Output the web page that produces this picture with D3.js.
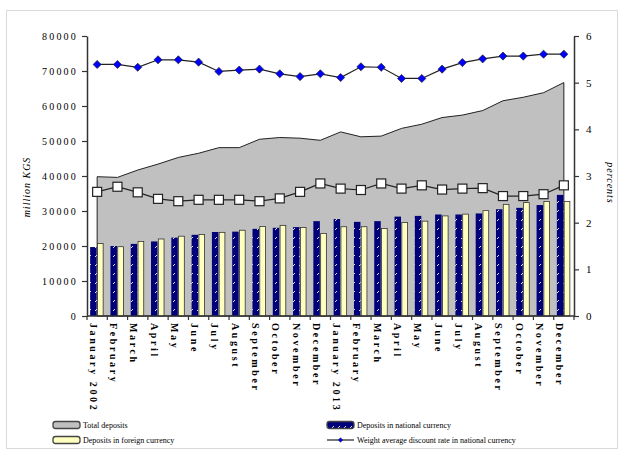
<!DOCTYPE html>
<html>
<head>
<meta charset="utf-8">
<script src="https://cdn.jsdelivr.net/npm/d3@7"></script>
<style>
  body { margin: 0; background: #fff; }
  svg text { font-family: "Liberation Serif", "Times New Roman", serif; fill: #000; }
</style>
</head>
<body>
<div id="chart"></div>
<script>
// month labels, 2002 - 2013
const months = ["January 2002", "February", "March", "April", "May", "June", "July", "August",
    "September", "October", "November", "December",
    "January 2013", "February", "March", "April", "May", "June", "July", "August",
    "September", "October", "November", "December"]

// million KGS
const totalDeposits = [39800, 39600, 41700, 43400, 45300, 46500, 48100, 48100, 50500, 51000, 50800, 50200,
    52600, 51200, 51400, 53600, 54800, 56700, 57400, 58700, 61500, 62500, 63800, 66700]
const nationalDeposits = [19700, 20000, 20600, 21300, 22400, 23200, 24000, 24100, 24900, 25200, 25400, 27100,
    27700, 26900, 27100, 28400, 28600, 29000, 29000, 29300, 30500, 30900, 31700, 34600]
const foreignDeposits = [20700, 19800, 21300, 22000, 22800, 23300, 23900, 24500, 25600, 25900, 25300, 23600,
    25500, 25500, 25000, 26700, 27100, 28600, 29100, 30100, 31900, 32400, 32700, 32700]

// percents
const rateNational = [5.39, 5.39, 5.33, 5.49, 5.49, 5.44, 5.24, 5.27, 5.29, 5.19, 5.13, 5.19,
    5.11, 5.34, 5.33, 5.09, 5.09, 5.29, 5.43, 5.51, 5.57, 5.57, 5.61, 5.61]
const rateForeign = [2.66, 2.77, 2.65, 2.51, 2.46, 2.49, 2.49, 2.49, 2.46, 2.52, 2.66, 2.84,
    2.73, 2.70, 2.84, 2.73, 2.80, 2.71, 2.73, 2.74, 2.57, 2.57, 2.61, 2.80]

const leftTicks = [0, 10000, 20000, 30000, 40000, 50000, 60000, 70000, 80000]
const rightTicks = [0, 1, 2, 3, 4, 5, 6]

const W = 621, H = 454
const margin = {top: 36, right: 47, bottom: 138, left: 87}
const width = W - margin.left - margin.right
const height = H - margin.top - margin.bottom

const svg = d3.select("#chart").append("svg")
    .attr("width", W)
    .attr("height", H)

// frame
svg.append("rect")
    .attr("x", 6.5).attr("y", 10.5)
    .attr("width", 611).attr("height", 438)
    .attr("fill", "none")
    .attr("stroke", "#d9d9d9")

const defs = svg.append("defs")
const pat = defs.append("pattern")
    .attr("id", "navyPat")
    .attr("patternUnits", "userSpaceOnUse")
    .attr("width", 6).attr("height", 9)
pat.append("rect").attr("width", 6).attr("height", 9).attr("fill", "#00007a")
pat.append("path").attr("d", "M2,5 L4,3").attr("stroke", "#fff").attr("stroke-width", 0.9)

const g = svg.append("g")
    .attr("transform", "translate(" + margin.left + "," + margin.top + ")")

const x = d3.scaleBand()
    .domain(d3.range(months.length))
    .range([0, width])
    .padding(0)

const y = d3.scaleLinear()
    .domain([0, 80000])
    .range([height, 0])

const y2 = d3.scaleLinear()
    .domain([0, 6])
    .range([height, 0])

const cx = i => x(i) + x.bandwidth() / 2

// total deposits area
const area = d3.area()
    .x((d, i) => cx(i))
    .y0(height)
    .y1(d => y(d))
g.append("path")
    .datum(totalDeposits)
    .attr("d", area)
    .attr("fill", "#c0c0c0")
    .attr("stroke", "#222")
    .attr("stroke-width", 1)

// bars
const barW = 6.5
g.append("g").selectAll("rect")
    .data(nationalDeposits)
    .enter().append("rect")
    .attr("x", (d, i) => cx(i) - barW - 0.5)
    .attr("y", d => y(d))
    .attr("width", barW)
    .attr("height", d => height - y(d))
    .attr("fill", "url(#navyPat)")

g.append("g").selectAll("rect")
    .data(foreignDeposits)
    .enter().append("rect")
    .attr("x", (d, i) => cx(i) + 0.3)
    .attr("y", d => y(d))
    .attr("width", barW - 0.8)
    .attr("height", d => height - y(d))
    .attr("fill", "#ffffc0")
    .attr("stroke", "#333")
    .attr("stroke-width", 0.8)

// lines on right axis
const line = d3.line()
    .x((d, i) => cx(i))
    .y(d => y2(d))

g.append("path")
    .datum(rateForeign)
    .attr("d", line)
    .attr("fill", "none")
    .attr("stroke", "#222")
    .attr("stroke-width", 1.2)
g.append("g").selectAll("rect")
    .data(rateForeign)
    .enter().append("rect")
    .attr("x", (d, i) => cx(i) - 4.5)
    .attr("y", d => y2(d) - 4.5)
    .attr("width", 9).attr("height", 9)
    .attr("fill", "#fff")
    .attr("stroke", "#222")
    .attr("stroke-width", 1.2)

g.append("path")
    .datum(rateNational)
    .attr("d", line)
    .attr("fill", "none")
    .attr("stroke", "#222")
    .attr("stroke-width", 1.2)
const diamond = d3.symbol().type(d3.symbolDiamond2).size(42)
g.append("g").selectAll("path")
    .data(rateNational)
    .enter().append("path")
    .attr("d", diamond)
    .attr("transform", (d, i) => "translate(" + cx(i) + "," + y2(d) + ")")
    .attr("fill", "#0000ff")
    .attr("stroke", "#222")
    .attr("stroke-width", 0.7)

// axes
const axisColor = "#333"
const leftAxis = g.append("g")
    .call(d3.axisLeft(y).tickValues(leftTicks).tickSize(5).tickPadding(4).tickSizeOuter(0)
        .tickFormat(d3.format("d")))
leftAxis.select(".domain").attr("stroke", axisColor).attr("stroke-width", 1.5)
leftAxis.selectAll(".tick line").attr("stroke", axisColor).attr("stroke-width", 1.2)
leftAxis.selectAll("text")
    .style("font-family", "Liberation Serif")
    .style("font-size", "10px")
    .style("letter-spacing", "2.2px")

const rightAxis = g.append("g")
    .attr("transform", "translate(" + width + ",0)")
    .call(d3.axisRight(y2).tickValues(rightTicks).tickSize(5).tickPadding(7).tickSizeOuter(0)
        .tickFormat(d3.format("d")))
rightAxis.select(".domain").attr("stroke", axisColor).attr("stroke-width", 1.5)
rightAxis.selectAll(".tick line").attr("stroke", axisColor).attr("stroke-width", 1.2)
rightAxis.selectAll("text")
    .style("font-family", "Liberation Serif")
    .style("font-size", "11px")

const bottomAxis = g.append("g")
    .attr("transform", "translate(0," + height + ")")
bottomAxis.append("line")
    .attr("x1", 0).attr("x2", width)
    .attr("stroke", axisColor).attr("stroke-width", 1.5)
bottomAxis.selectAll(".xt")
    .data(d3.range(months.length + 1))
    .enter().append("line")
    .attr("x1", i => i * x.bandwidth()).attr("x2", i => i * x.bandwidth())
    .attr("y1", 0).attr("y2", 4)
    .attr("stroke", axisColor).attr("stroke-width", 1.2)
bottomAxis.selectAll("text")
    .data(months)
    .enter().append("text")
    .attr("transform", (d, i) => "translate(" + (cx(i) - 4) + ",7) rotate(90)")
    .attr("text-anchor", "start")
    .attr("dy", "0.35em")
    .style("font-size", "10px")
    .style("font-weight", "bold")
    .style("letter-spacing", "2.6px")
    .text(d => d)

// axis titles
svg.append("text")
    .attr("transform", "translate(30,187) rotate(-90)")
    .attr("text-anchor", "middle")
    .style("font-size", "10px")
    .style("font-style", "italic")
    .style("letter-spacing", "1px")
    .text("million KGS")

svg.append("text")
    .attr("transform", "translate(607,183) rotate(90)")
    .attr("text-anchor", "middle")
    .style("font-size", "10px")
    .style("font-style", "italic")
    .style("letter-spacing", "1px")
    .text("percents")

// legend
const legend = svg.append("g").style("font-size", "8px")
const items = [
    {label: "Total deposits", x: 53, y: 425, kind: "box", fill: "#c0c0c0"},
    {label: "Deposits in foreign currency", x: 53, y: 440, kind: "box", fill: "#ffffc0"},
    {label: "Deposits in national currency", x: 327, y: 425, kind: "box", fill: "url(#navyPat)"},
    {label: "Weight average discount rate in national currency", x: 327, y: 440, kind: "line"}
]
items.forEach(it => {
    if (it.kind === "box") {
        legend.append("rect")
            .attr("x", it.x).attr("y", it.y - 3.5)
            .attr("width", 27).attr("height", 7)
            .attr("rx", 2.5)
            .attr("fill", it.fill)
            .attr("stroke", "#444")
            .attr("stroke-width", 1.3)
    } else {
        legend.append("line")
            .attr("x1", it.x).attr("x2", it.x + 27)
            .attr("y1", it.y).attr("y2", it.y)
            .attr("stroke", "#222").attr("stroke-width", 1.2)
        legend.append("path")
            .attr("d", d3.symbol().type(d3.symbolDiamond2).size(14))
            .attr("transform", "translate(" + (it.x + 13.5) + "," + it.y + ")")
            .attr("fill", "#0000ff")
            .attr("stroke", "#222").attr("stroke-width", 0.5)
    }
    legend.append("text")
        .attr("x", it.x + 30)
        .attr("y", it.y)
        .attr("dy", "0.35em")
        .text(it.label)
})
</script>
</body>
</html>
